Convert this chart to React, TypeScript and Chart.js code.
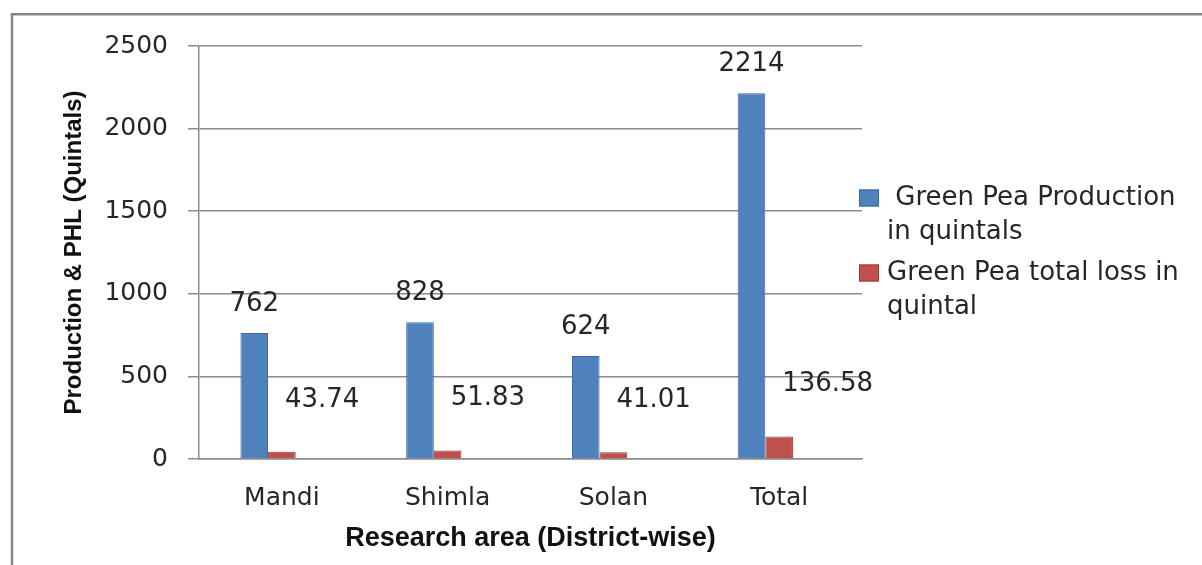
import { useEffect, useRef } from 'react';
import { Chart, registerables } from 'chart.js';

Chart.register(...registerables);

// District-wise green pea production and post-harvest loss (quintals)
const districts = ['Mandi', 'Shimla', 'Solan', 'Total'];
const production = [762, 828, 624, 2214];
const totalLoss = [43.74, 51.83, 41.01, 136.58];
const yTicks = [0, 500, 1000, 1500, 2000, 2500];

const productionLegend = ['\u00a0Green Pea Production', 'in quintals'];
const lossLegend = ['Green Pea total loss in', 'quintal'];
const xTitle = 'Research area (District-wise)';
const yTitle = 'Production & PHL (Quintals)';

const BLUE = '#4f81bd';
const BLUE_EDGE = '#3c679a';
const RED = '#c0504d';
const RED_EDGE = '#9a3b39';
const GRID = '#8c8c8c';
const TEXT = '#262626';

const framePlugin = {
  id: 'frame',
  beforeDraw(chart: any) {
    const { ctx } = chart;
    ctx.save();
    ctx.fillStyle = '#ffffff';
    ctx.fillRect(0, 0, chart.width, chart.height);
    ctx.strokeStyle = '#858585';
    ctx.lineWidth = 2.5;
    ctx.strokeRect(12, 14.25, chart.width + 40, chart.height + 40);
    ctx.restore();
  },
};

const valueLabelPlugin = {
  id: 'valueLabels',
  afterDatasetsDraw(chart: any) {
    const { ctx } = chart;
    ctx.save();
    ctx.fillStyle = TEXT;
    ctx.font = '26px "DejaVu Sans"';
    ctx.textBaseline = 'middle';
    chart.getDatasetMeta(0).data.forEach((bar: any, i: number) => {
      ctx.textAlign = 'center';
      ctx.fillText(String(production[i]), bar.x, bar.y - 29);
    });
    chart.getDatasetMeta(1).data.forEach((bar: any, i: number) => {
      ctx.textAlign = 'left';
      ctx.fillText(String(totalLoss[i]), bar.x + 3, bar.y - 52);
    });
    ctx.restore();
  },
};

const titlesLegendPlugin = {
  id: 'titlesLegend',
  afterDraw(chart: any) {
    const { ctx, chartArea } = chart;
    const midX = (chartArea.left + chartArea.right) / 2;
    const midY = (chartArea.top + chartArea.bottom) / 2;
    ctx.save();
    ctx.fillStyle = '#111111';
    ctx.textAlign = 'center';
    ctx.textBaseline = 'middle';
    ctx.font = 'bold 27px "Liberation Sans"';
    ctx.fillText(xTitle, midX, chartArea.bottom + 80);

    ctx.save();
    ctx.translate(74, midY);
    ctx.rotate(-Math.PI / 2);
    ctx.font = 'bold 24px "Liberation Sans"';
    ctx.fillText(yTitle, 0, 0);
    ctx.restore();

    // Legend: two entries with wrapped text, centred on the plot height
    const items = [
      { color: BLUE, edge: BLUE_EDGE, lines: productionLegend },
      { color: RED, edge: RED_EDGE, lines: lossLegend },
    ];
    const lineGap = 34;
    const itemGap = 75;
    const firstY = midY - (itemGap + lineGap) / 2;
    const boxX = chartArea.right - 3;
    const textX = chartArea.right + 25;
    ctx.font = '26px "DejaVu Sans"';
    ctx.textAlign = 'left';
    ctx.fillStyle = TEXT;
    items.forEach((item, k) => {
      const y0 = firstY + k * itemGap;
      ctx.fillStyle = item.color;
      ctx.fillRect(boxX, y0 - 8.5, 20, 17);
      ctx.strokeStyle = item.edge;
      ctx.lineWidth = 1;
      ctx.strokeRect(boxX + 0.5, y0 - 8, 19, 16);
      ctx.fillStyle = TEXT;
      item.lines.forEach((line, j) => {
        ctx.fillText(line, textX, y0 + j * lineGap);
      });
    });
    ctx.restore();
  },
};

export default function App() {
  const canvasRef = useRef<HTMLCanvasElement | null>(null);

  useEffect(() => {
    if (!canvasRef.current) return;
    const chart = new Chart(canvasRef.current, {
      type: 'bar',
      data: {
        labels: districts,
        datasets: [
          {
            label: productionLegend.join(' '),
            data: production,
            backgroundColor: BLUE,
            borderColor: BLUE_EDGE,
            borderWidth: 1,
          },
          {
            label: lossLegend.join(' '),
            data: totalLoss,
            backgroundColor: RED,
            borderColor: RED_EDGE,
            borderWidth: 1,
          },
          {
            // empty series slot that keeps each group left of the category centre
            label: '',
            data: [],
          },
        ],
      },
      options: {
        responsive: false,
        animation: false,
        layout: { padding: { top: 46, right: 340, left: 0, bottom: 0 } },
        plugins: {
          legend: { display: false },
          tooltip: { enabled: false },
        },
        datasets: {
          bar: { categoryPercentage: 0.5, barPercentage: 1 },
        },
        scales: {
          x: {
            grid: { display: false },
            border: { display: true, color: GRID, width: 1.5 },
            ticks: {
              color: TEXT,
              font: { family: 'DejaVu Sans', size: 25 },
              padding: 16,
              maxRotation: 0,
            },
            afterFit(scale: any) {
              scale.height = 106;
            },
          },
          y: {
            min: 0,
            max: 2500,
            afterBuildTicks(scale: any) {
              scale.ticks = yTicks.map((v) => ({ value: v }));
            },
            grid: { color: GRID, lineWidth: 1.5, tickLength: 11 },
            border: { display: true, color: GRID, width: 1.5 },
            ticks: {
              color: TEXT,
              font: { family: 'DejaVu Sans', size: 25 },
              padding: 20,
              callback: (value: any) => String(value),
            },
            afterFit(scale: any) {
              scale.width = 199;
            },
          },
        },
      },
      plugins: [framePlugin, valueLabelPlugin, titlesLegendPlugin],
    });
    return () => chart.destroy();
  }, []);

  return (
    <div style={{ position: 'absolute', left: 0, top: 0, width: 1202, height: 565, background: '#fff' }}>
      <canvas ref={canvasRef} width={1202} height={565} style={{ display: 'block' }} />
    </div>
  );
}
